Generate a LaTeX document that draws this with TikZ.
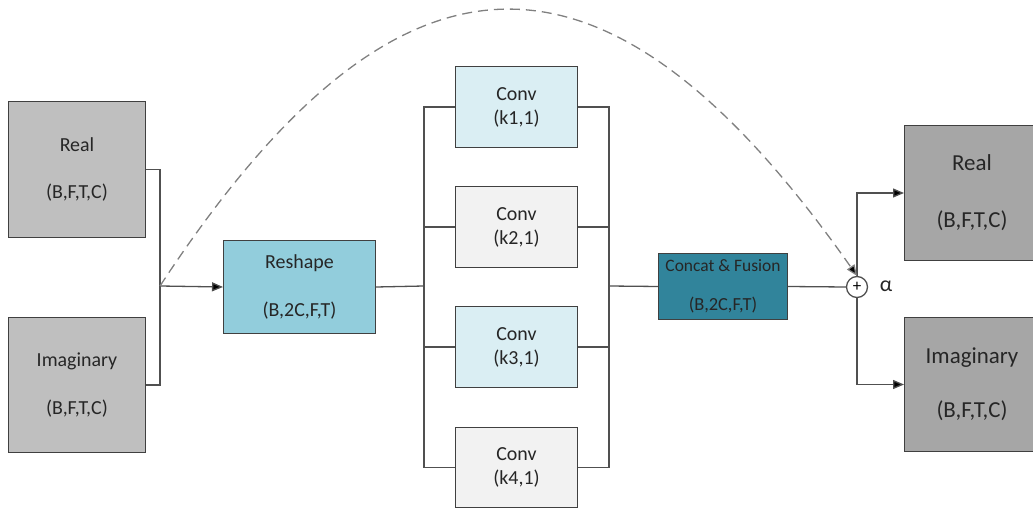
\documentclass[tikz,border=0pt]{standalone}
\usepackage{fontspec}
\setmainfont{Carlito}
\usetikzlibrary{arrows.meta,calc}
\definecolor{lgray}{HTML}{BFBFBF}
\definecolor{dgray}{HTML}{A6A6A6}
\definecolor{reshc}{HTML}{92CDDC}
\definecolor{convb}{HTML}{DAEEF3}
\definecolor{convg}{HTML}{F2F2F2}
\definecolor{concc}{HTML}{31849B}
\definecolor{bordc}{HTML}{404040}
\definecolor{linec}{HTML}{505050}
\definecolor{dashc}{HTML}{808080}
\definecolor{txt}{HTML}{262626}
\begin{document}
\begin{tikzpicture}[x=1bp,y=-1bp,
  box/.style={draw=bordc, line width=1bp, inner sep=0pt, anchor=north west, align=center, text=txt,
    font=\fontsize{20}{24}\selectfont},
  bigtext/.style={font=\fontsize{23}{27}\selectfont},
  smalltext/.style={font=\fontsize{17.5}{20}\selectfont},
  conn/.style={draw=linec, line width=1.3bp},
  arr/.style={conn, -{Triangle[length=11bp,width=9bp,fill=black]}},
  dashline/.style={draw=dashc, line width=1.3bp, dash pattern=on 10bp off 6bp,
    -{Triangle[length=11bp,width=9bp,fill=black]}}]
\useasboundingbox (0,0) rectangle (1033,508);
% left inputs
\node[box, fill=lgray, minimum width=137bp, minimum height=136bp] (lreal) at (8,101) {Real\\[23bp](B,F,T,C)};
\node[box, fill=lgray, minimum width=137bp, minimum height=135bp] (limag) at (8,317) {Imaginary\\[24bp](B,F,T,C)};
% reshape
\node[box, fill=reshc, minimum width=152bp, minimum height=93bp] (resh) at (223,240) {Reshape\\[24bp](B,2C,F,T)};
% convs
\node[box, fill=convb, minimum width=122bp, minimum height=81bp] (conv1) at (455,66) {Conv\\(k1,1)};
\node[box, fill=convg, minimum width=122bp, minimum height=81bp] (conv2) at (455,186) {Conv\\(k2,1)};
\node[box, fill=convb, minimum width=122bp, minimum height=81bp] (conv3) at (455,306) {Conv\\(k3,1)};
\node[box, fill=convg, minimum width=122bp, minimum height=80bp] (conv4) at (455,427) {Conv\\(k4,1)};
% concat
\node[box, smalltext, fill=concc, minimum width=129bp, minimum height=66bp] (conc) at (658,253) {Concat \& Fusion\\[19bp]{\fontsize{18.5}{20}\selectfont(B,2C,F,T)}};
% plus and alpha
\node[circle, draw=linec, line width=1.3bp, fill=white, minimum size=21bp, inner sep=0pt,
  font=\fontsize{17}{17}\selectfont] (plus) at (857,287) {+};
\node[text=txt, font=\fontsize{22}{24}\selectfont] (alpha) at (886,286) {α};
% right outputs
\node[box, bigtext, fill=dgray, minimum width=135bp, minimum height=135bp] (rreal) at (904,125) {Real\\[30bp](B,F,T,C)};
\node[box, bigtext, fill=dgray, minimum width=135bp, minimum height=134bp] (rimag) at (904,317) {Imaginary\\[27bp](B,F,T,C)};
% junctions
\coordinate (jL) at (160,286);
\coordinate (bL) at (424,286);
\coordinate (bR) at (609,286);
% connectors
\draw[conn] (lreal.east) -| (jL) |- (limag.east);
\draw[arr] (jL) -- (resh.west);
\draw[conn] (resh.east) -- (bL);
\draw[conn] (conv1.west) -- (bL |- conv1.west) -- (bL |- conv4.west) -- (conv4.west);
\draw[conn] (conv2.west) -- (bL |- conv2.west);
\draw[conn] (conv3.west) -- (bL |- conv3.west);
\draw[conn] (conv1.east) -- (bR |- conv1.east) -- (bR |- conv4.east) -- (conv4.east);
\draw[conn] (conv2.east) -- (bR |- conv2.east);
\draw[conn] (conv3.east) -- (bR |- conv3.east);
\draw[conn] (bR) -- (conc.west);
\draw[conn] (conc.east) -- (plus.west);
\draw[arr] (plus.north) |- (rreal.west);
\draw[arr] (plus.south) |- (rimag.west);
\draw[dashline] (jL) .. controls (400,-80) and (607,-80) .. (plus.north);
\end{tikzpicture}
\end{document}
